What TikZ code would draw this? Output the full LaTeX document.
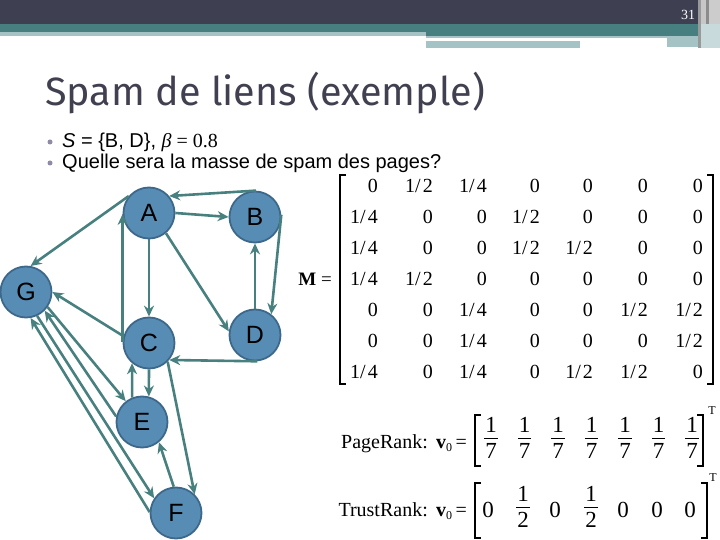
\documentclass[tikz,border=0pt]{standalone}
\usepackage{fontspec}
\setmainfont{Liberation Serif}
\newfontfamily\arialf{Liberation Sans}
\newfontfamily\titlef{Fira Sans}
\usetikzlibrary{arrows.meta}
\definecolor{hdark}{HTML}{3F3F52}
\definecolor{hteal}{HTML}{477F81}
\definecolor{hlight}{HTML}{A5C2C5}
\definecolor{edgec}{HTML}{488080}
\definecolor{nodefill}{HTML}{578DB5}
\definecolor{nodeline}{HTML}{3E688A}
\definecolor{titlec}{HTML}{404050}
\definecolor{bulletc}{HTML}{8E8AA8}
\newcommand\halfent{1/\kern2pt 2}
\newcommand\quartent{1/\kern2pt 4}
\newcommand\vfrac[2]{\setlength\arrayrulewidth{1.1pt}\setlength\tabcolsep{1pt}\begin{tabular}{c}#1\\[-1pt]\hline\rule{0pt}{19pt}#2\end{tabular}}
\begin{document}
\begin{tikzpicture}[x=1pt,y=-1pt,
  vert/.style={circle, fill=nodefill, draw=nodeline, line width=1.8pt, minimum size=51pt, inner sep=0pt, font=\arialf\fontsize{25}{25}\selectfont},
  link/.style={draw=edgec, line width=2.6pt, -{Stealth[length=11pt,width=10pt]}},
  entry/.style={anchor=east, inner sep=0pt, font=\fontsize{20}{20}\selectfont},
  vent/.style={inner sep=0pt, font=\fontsize{23}{21}\selectfont},
  brk/.style={line width=1.2pt},
  vbrk/.style={line width=1.8pt},
]
\useasboundingbox (0,0) rectangle (720,540);
\fill[white] (0,0) rectangle (720,540);
% header
\fill[hdark] (0,0) rectangle (698,24);
\fill[hteal] (0,24) rectangle (698,32);
\fill[hteal] (426,32) rectangle (698,36);
\fill[hlight] (0,32) rectangle (426,36);
\fill[hlight] (426,36) rectangle (698,38);
\fill[hlight] (426,41) rectangle (580,48);
\fill[hlight] (667,38) rectangle (698,47);
\fill[black!40] (698,0) rectangle (701,48);
\fill[black!22] (701,0) rectangle (706,48);
\fill[black!45] (706,0) rectangle (709,48);
\fill[black!20] (709,0) rectangle (720,48);
\fill[hlight!60] (701,24) rectangle (720,48);
\node[text=white, font=\fontsize{14}{14}\selectfont, inner sep=0pt] (pnum) at (688,15) {31};
% title
\node[anchor=base west, inner sep=0pt, text=titlec, font=\titlef\fontsize{39.5}{39.5}\selectfont] (title) at (45,106) {Spam de liens (exemple)};
% bullets
\fill[bulletc] (50,142) circle (2.5);
\fill[bulletc] (50,163) circle (2.5);
\node[anchor=base west, inner sep=0pt, font=\arialf\fontsize{20}{20}\selectfont] (b1) at (62,148) {\textit{S} = \{B, D\}, {\rmfamily\fontsize{20}{20}\selectfont\itshape β\upshape{} = 0.8}};
\node[anchor=base west, inner sep=0pt, font=\arialf\fontsize{20}{20}\selectfont] (b2) at (62,169) {Quelle sera la masse de spam des pages?};
% graph
\node[vert] (A) at (149,213) {A};
\node[vert] (B) at (255,217) {B};
\node[vert] (G) at (26,292) {G};
\node[vert] (C) at (149,343) {C};
\node[vert] (D) at (255,335) {D};
\node[vert] (E) at (142,422) {E};
\node[vert] (F) at (176,513) {F};
\draw[link] (A.0) -- (B.180);
\draw[link] (B.88) -- (A.40);
\draw[link] (B.5) -- (D.52);
\draw[link] (D.90) -- (B.-90);
\draw[link] (A.-50) -- (D.172);
\draw[link] (A.-90) -- (C.90);
\draw[link] (C.178) -- (A.182);
\draw[link] (A.140) -- (G.80);
\draw[link] (C.165) -- (G.0);
\draw[link] (D.-85) -- (C.-40);
\draw[link] (C.-90) -- (E.75);
\draw[link] (E.112) -- (C.-130);
\draw[link] (C.-45) -- (F.45);
\draw[link] (F.95) -- (E.-50);
\draw[link] (G.-35) -- (E.128);
\draw[link] (E.168) -- (G.-45);
\draw[link] (G.-65) -- (F.146);
\draw[link] (F.178) -- (G.-80);
% matrix
\node[anchor=east, inner sep=0pt, font=\fontsize{19}{19}\selectfont] (Mlab) at (332,279) {\textbf{M} =};
\foreach \row [count=\r] in {
  {0,\halfent,\quartent,0,0,0,0},
  {\quartent,0,0,\halfent,0,0,0},
  {\quartent,0,0,\halfent,\halfent,0,0},
  {\quartent,\halfent,0,0,0,0,0},
  {0,0,\quartent,0,0,\halfent,\halfent},
  {0,0,\quartent,0,0,0,\halfent},
  {\quartent,0,\quartent,0,\halfent,\halfent,0}} {
  \foreach \e [count=\c] in \row {
    \pgfmathsetmacro\cx{{378,433,487,540,593,648,703}[\c-1]}
    \node[entry] (m\r\c) at (\cx,{186+31*(\r-1)}) {\e};
  }
}
\draw[brk] (346,175) -- (340,175) -- (340,384) -- (346,384);
\draw[brk] (707,175) -- (713,175) -- (713,384) -- (707,384);
% PageRank vector
\node[anchor=base east, inner sep=0pt, font=\fontsize{20}{20}\selectfont] (prl) at (428,448) {PageRank:};
\node[anchor=base west, inner sep=0pt, font=\fontsize{20}{20}\selectfont] (prv) at (436,448) {\textbf{v}\raisebox{-3pt}{\fontsize{12}{12}\selectfont 0}\,=};
\foreach \k in {0,...,6} {
  \node[vent] (p\k) at ({491+33.5*\k},441) {\vfrac{1}{7}};
}
\draw[vbrk] (481,415) -- (475,415) -- (475,466) -- (481,466);
\draw[vbrk] (697,415) -- (703,415) -- (703,466) -- (697,466);
\node[inner sep=0pt, font=\fontsize{12}{12}\selectfont] (prT) at (712,411) {T};
% TrustRank vector
\node[anchor=base east, inner sep=0pt, font=\fontsize{20}{20}\selectfont] (trl) at (428,516) {TrustRank:};
\node[anchor=base west, inner sep=0pt, font=\fontsize{20}{20}\selectfont] (trv) at (436,516) {\textbf{v}\raisebox{-3pt}{\fontsize{12}{12}\selectfont 0}\,=};
\node[vent] (t0) at (488,510) {0};
\node[vent] (t1) at (523,510) {\vfrac{1}{2}};
\node[vent] (t2) at (555,510) {0};
\node[vent] (t3) at (591,510) {\vfrac{1}{2}};
\node[vent] (t4) at (623,510) {0};
\node[vent] (t5) at (657,510) {0};
\node[vent] (t6) at (690,510) {0};
\draw[vbrk] (481,483) -- (475,483) -- (475,538) -- (481,538);
\draw[vbrk] (701,483) -- (707,483) -- (707,538) -- (701,538);
\node[inner sep=0pt, font=\fontsize{12}{12}\selectfont] (trT) at (713,478) {T};
\end{tikzpicture}
\end{document}
